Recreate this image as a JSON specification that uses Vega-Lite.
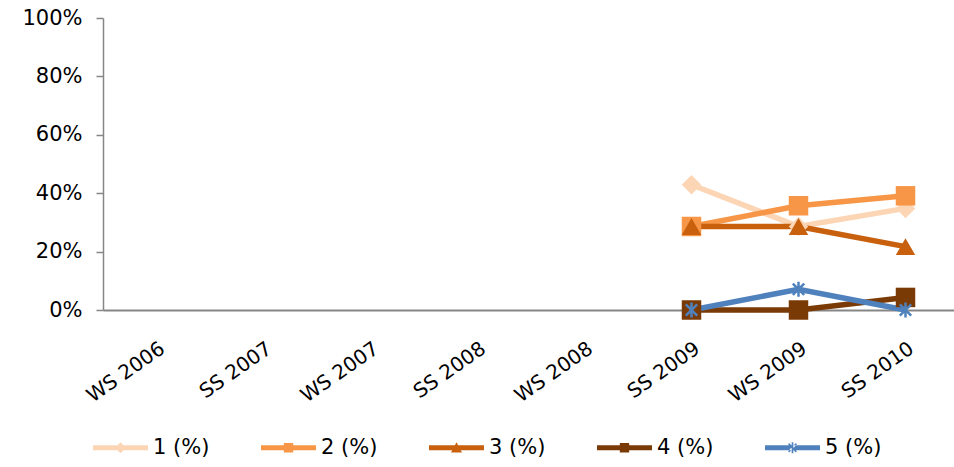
{
  "$schema": "https://vega.github.io/schema/vega-lite/v6.json",
  "autosize": {"type": "none"},
  "width": 856,
  "height": 292,
  "padding": {"left": 103, "top": 18, "right": 0, "bottom": 157},
  "background": "white",
  "config": {
    "view": {"stroke": null},
    "font": "DejaVu Sans"
  },
  "data": {
    "values": [
      {"term": "SS 2009", "series": "1 (%)", "value": 0.429},
      {"term": "WS 2009", "series": "1 (%)", "value": 0.286},
      {"term": "SS 2010", "series": "1 (%)", "value": 0.348},
      {"term": "SS 2009", "series": "2 (%)", "value": 0.286},
      {"term": "WS 2009", "series": "2 (%)", "value": 0.357},
      {"term": "SS 2010", "series": "2 (%)", "value": 0.391},
      {"term": "SS 2009", "series": "3 (%)", "value": 0.286},
      {"term": "WS 2009", "series": "3 (%)", "value": 0.286},
      {"term": "SS 2010", "series": "3 (%)", "value": 0.217},
      {"term": "SS 2009", "series": "4 (%)", "value": 0.0},
      {"term": "WS 2009", "series": "4 (%)", "value": 0.0},
      {"term": "SS 2010", "series": "4 (%)", "value": 0.043},
      {"term": "SS 2009", "series": "5 (%)", "value": 0.0},
      {"term": "WS 2009", "series": "5 (%)", "value": 0.071},
      {"term": "SS 2010", "series": "5 (%)", "value": 0.0}
    ]
  },
  "encoding": {
    "x": {
      "field": "term",
      "type": "ordinal",
      "sort": null,
      "scale": {
        "type": "point",
        "padding": 0.5,
        "domain": ["WS 2006", "SS 2007", "WS 2007", "SS 2008", "WS 2008", "SS 2009", "WS 2009", "SS 2010"]
      },
      "axis": {
        "title": null,
        "labelAngle": -35,
        "labelFontSize": 20,
        "labelColor": "#000000",
        "labelFont": "DejaVu Sans",
        "ticks": false,
        "labelPadding": 28,
        "domainColor": "#868686",
        "domainWidth": 2,
        "grid": false
      }
    },
    "y": {
      "field": "value",
      "type": "quantitative",
      "scale": {"domain": [0, 1], "nice": false},
      "axis": {
        "title": null,
        "format": ".0%",
        "values": [0, 0.2, 0.4, 0.6, 0.8, 1],
        "labelFontSize": 21,
        "labelColor": "#000000",
        "labelFont": "DejaVu Sans",
        "tickSize": 7,
        "tickColor": "#868686",
        "tickWidth": 1.5,
        "domainColor": "#868686",
        "domainWidth": 1.5,
        "labelPadding": 14,
        "grid": false
      }
    },
    "color": {
      "field": "series",
      "type": "nominal",
      "scale": {
        "domain": ["1 (%)", "2 (%)", "3 (%)", "4 (%)", "5 (%)"],
        "range": ["#FCD5B5", "#F79646", "#C8600E", "#7A3A06", "#4F81BD"]
      },
      "legend": null
    }
  },
  "layer": [
    {
      "mark": {"type": "line", "strokeWidth": 5.5},
      "encoding": {
        "color": {
          "field": "series",
          "type": "nominal",
          "legend": {
            "title": null,
            "orient": "none",
            "direction": "horizontal",
            "columns": 5,
            "legendX": -10,
            "legendY": 402,
            "labelFontSize": 21,
            "labelFont": "DejaVu Sans",
            "labelColor": "#000000",
            "symbolSize": 3025,
            "labelOffset": 5,
            "columnPadding": 51,
            "encode": {
              "symbols": {
                "update": {
                  "shape": {"signal": "datum.value === '1 (%)' ? 'M-1,-0.09L1,-0.09L1,0.09L-1,0.09Z M0,-0.2L0.2,0L0,0.2L-0.2,0Z' : datum.value === '2 (%)' ? 'M-1,-0.09L1,-0.09L1,0.09L-1,0.09Z M-0.17,-0.17L0.17,-0.17L0.17,0.17L-0.17,0.17Z' : datum.value === '3 (%)' ? 'M-1,-0.09L1,-0.09L1,0.09L-1,0.09Z M0,-0.2L0.2,0.17L-0.2,0.17Z' : datum.value === '4 (%)' ? 'M-1,-0.09L1,-0.09L1,0.09L-1,0.09Z M-0.17,-0.17L0.17,-0.17L0.17,0.17L-0.17,0.17Z' : 'M-1,-0.09L1,-0.09L1,0.09L-1,0.09Z M-0.03,-0.2L0.03,-0.2L0.03,0.2L-0.03,0.2Z M-0.16,-0.13L-0.12,-0.17L0.16,0.13L0.12,0.17Z M0.16,-0.13L0.12,-0.17L-0.16,0.13L-0.12,0.17Z'"},
                  "fill": {"scale": "color", "field": "value"},
                  "stroke": {"value": "transparent"},
                  "strokeWidth": {"value": 0},
                  "opacity": {"value": 1}
                }
              }
            }
          }
        }
      }
    },
    {
      "transform": [{"filter": "datum.series === '1 (%)'"}],
      "mark": {"type": "point", "filled": true, "opacity": 1, "shape": "diamond", "size": 380},
      "encoding": {}
    },
    {
      "transform": [{"filter": "datum.series === '2 (%)'"}],
      "mark": {"type": "point", "filled": true, "opacity": 1, "shape": "square", "size": 380},
      "encoding": {}
    },
    {
      "transform": [{"filter": "datum.series === '3 (%)'"}],
      "mark": {"type": "point", "filled": true, "opacity": 1, "shape": "triangle-up", "size": 380},
      "encoding": {}
    },
    {
      "transform": [{"filter": "datum.series === '4 (%)'"}],
      "mark": {"type": "point", "filled": true, "opacity": 1, "shape": "square", "size": 380},
      "encoding": {}
    },
    {
      "transform": [{"filter": "datum.series === '5 (%)'"}],
      "mark": {"type": "point", "filled": false, "strokeWidth": 2.5, "opacity": 1, "shape": "M-1,-1L1,1M-1,1L1,-1M0,-1.3L0,1.3", "size": 130},
      "encoding": {}
    }
  ]
}
